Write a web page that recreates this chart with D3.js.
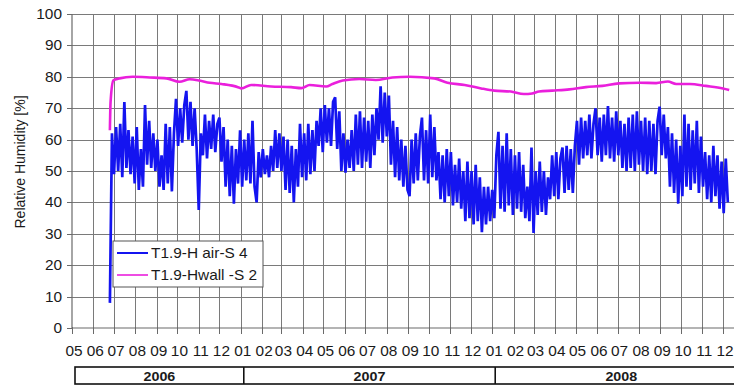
<!DOCTYPE html>
<html><head><meta charset="utf-8">
<script src="https://cdn.jsdelivr.net/npm/d3@7"></script>
<style>
body{margin:0;background:#fff;}
text{font-family:"Liberation Sans",Arial,sans-serif;fill:#1a1a1a;}
</style>
</head><body>
<svg id="chart" width="734" height="385"></svg>
<script>
// ---------- data ----------
const airLabel = "T1.9-H air-S 4";
const wallLabel = "T1.9-Hwall -S 2";
const airStart = "2006-06-25";
const airStepDays = 3;
const airValues = [
 8,62,49,64,50,65,48,72,51,63, 49,61,46,64,44,57,45,71,52,66,
 51,62,50,60,45,55,44,65,46,64, 43.5,62,73,58,70,59,71,75.5,60,72,
 58,70,57,37.6,62,55,68,54,66,57, 68,56,65,67,53,64,45,60,42,58,
 39.6,57,46,63,45,60,47,62,46,66, 45,40,56,48,57,49,55,48,58,50,
 63,51,62,50,61,44,60,43,58,40, 57,45,65,48,62,47,65,49,63,50,
 66,58,70,56,71,59,70,58,72,73.5, 57,69,50,62,49.5,60,51,63,50,68,
 52,69,51,67,53,66,51,68,55,70, 60,77,59,75,61,74,52,66,48,64,
 47,60,45,58,44,42,60,46,62,47, 61,67,47,63,46,68,48,64,47,56,
 41,55,40,57,42,56,39,52,40,54, 38,50,34,53,35,50,33,52,34,48,
 30.5,45,33,45,34,44,35,55,62.5,38, 58,37,62,39,57,36,55,38,56,37,
 52,35,45,34,57.5,30.3,50,36,53,37, 50,36,48,41,55,42,56,41,54,57.5,
 43,58,44,57,43,58,66,52,67,54, 66,55,68,54,65,70,55,67,53,68,
 55,70.7,54,67,53,69,55,66,51,65, 50,67,51,68,50,69,52,66,50,67,
 49,66,50,65,49,66,70.5,55,68,54, 64,45,62,43,60,39.6,58,42,68,45,
 65,44,63,46,66,43,61,45,56,41, 55,40,58,42,55,38,53,36.6,54,40
];
const wallDates = [
 "2006-06-25","2006-06-26","2006-06-30","2006-07-04","2006-07-09","2006-07-28","2006-08-22",
 "2006-09-15","2006-10-04","2006-10-19","2006-11-02","2006-11-17","2006-12-04","2006-12-28",
 "2007-01-02","2007-01-16","2007-02-14","2007-03-15","2007-03-30","2007-04-11","2007-05-05",
 "2007-05-14","2007-05-29","2007-06-22","2007-07-16","2007-08-09","2007-09-03","2007-10-09",
 "2007-10-28","2007-11-22","2007-12-16","2008-01-04","2008-01-28","2008-02-16","2008-02-28",
 "2008-03-09","2008-03-28","2008-04-22","2008-05-16","2008-06-09","2008-07-03","2008-08-02",
 "2008-08-26","2008-09-12","2008-09-24","2008-10-14","2008-11-06","2008-12-01","2008-12-10"
];
const wallValues = [
 63,72,78.8,79.2,79.5,80,79.8,
 79.5,78.4,79.2,78.8,78.1,77.7,76.7,
 76.3,77.4,76.9,76.7,76.4,77.4,76.9,
 77.7,78.8,79.3,79.0,79.8,80.0,79.5,
 78.1,77.4,76.3,75.6,75.3,74.5,74.7,
 75.3,75.6,76.0,76.7,77.1,77.9,78.1,
 78.0,78.5,77.7,77.7,77.1,76.3,75.8
];
const yTickValues = [0,10,20,30,40,50,60,70,80,90,100];
const axisStart = "2006-05-01";
const axisLastTick = "2008-12-01";
const years = ["2006","2007","2008"];
const yearBounds = ["2006-05-01","2007-01-01","2008-01-01","2009-01-01"];

// ---------- layout ----------
const svg = d3.select("#chart");
const parse = d3.timeParse("%Y-%m-%d");
const pL = 72, pT = 14, pB = 328, pR = 734;
const x = d3.scaleTime().domain([parse(axisStart), parse(axisLastTick)]).range([72, 723]);
const y = d3.scaleLinear().domain([0, 100]).range([pB, pT]);
const gridColor = "#7a7a7a";
const sx = 1.1; // horizontal text stretch

const months = d3.timeMonth.range(parse(axisStart), d3.timeDay.offset(parse(axisLastTick), 1));

// grid
const g = svg.append("g");
g.selectAll("line.h").data(yTickValues.filter(v => v > 0)).join("line")
  .attr("x1", pL).attr("x2", pR).attr("y1", d => Math.round(y(d)) + 0.5).attr("y2", d => Math.round(y(d)) + 0.5)
  .attr("stroke", gridColor).attr("stroke-width", 1);
g.selectAll("line.v").data(months.slice(1)).join("line")
  .attr("x1", d => Math.round(x(d)) + 0.5).attr("x2", d => Math.round(x(d)) + 0.5)
  .attr("y1", pT).attr("y2", pB)
  .attr("stroke", gridColor).attr("stroke-width", 1);

// axes
g.append("line").attr("x1", pL).attr("x2", pL).attr("y1", pT).attr("y2", pB)
  .attr("stroke", "#6a6a6a").attr("stroke-width", 1.2);
g.append("line").attr("x1", pL).attr("x2", pR).attr("y1", pB).attr("y2", pB)
  .attr("stroke", "#6a6a6a").attr("stroke-width", 1.2);
g.selectAll("line.yt").data(yTickValues).join("line")
  .attr("x1", pL - 5).attr("x2", pL).attr("y1", d => Math.round(y(d)) + 0.5).attr("y2", d => Math.round(y(d)) + 0.5)
  .attr("stroke", "#6a6a6a");
g.selectAll("line.xt").data(months).join("line")
  .attr("x1", d => Math.round(x(d)) + 0.5).attr("x2", d => Math.round(x(d)) + 0.5)
  .attr("y1", pB - 1).attr("y2", pB + 6).attr("stroke", "#6a6a6a");

svg.selectAll("text.yl").data(yTickValues).join("text").attr("class", "yl")
  .attr("transform", d => `translate(62,${y(d) + 5}) scale(${sx},1)`)
  .attr("text-anchor", "end").attr("font-size", 14).text(d => d);
const fmt = d3.timeFormat("%m");
svg.selectAll("text.xl").data(months).join("text").attr("class", "xl")
  .attr("transform", d => `translate(${x(d) + 2},356) scale(${sx},1)`)
  .attr("text-anchor", "middle").attr("font-size", 14).text(d => fmt(d));

svg.append("text").attr("transform", "translate(25,162) rotate(-90)")
  .attr("text-anchor", "middle").attr("font-size", 14).text("Relative Humidity [%]");

// series
svg.append("clipPath").attr("id", "clip").append("rect")
  .attr("x", pL).attr("y", pT - 2).attr("width", pR - pL).attr("height", pB - pT + 2);
const start = parse(airStart);
const airData = airValues.map((v, i) => ({ d: d3.timeDay.offset(start, i * airStepDays), v }));
const wallData = wallDates.map((s, i) => ({ d: parse(s), v: wallValues[i] }));
const line = d3.line().x(p => x(p.d)).y(p => y(p.v));
svg.append("path").datum(airData).attr("clip-path", "url(#clip)")
  .attr("d", line).attr("fill", "none").attr("stroke", "#1414f0")
  .attr("stroke-width", 2.7).attr("stroke-linejoin", "miter").attr("stroke-miterlimit", 2.5);
svg.append("path").datum(wallData).attr("clip-path", "url(#clip)")
  .attr("d", line.curve(d3.curveMonotoneX)).attr("fill", "none").attr("stroke", "#ea1fdc")
  .attr("stroke-width", 2.6);

// legend
const lg = svg.append("g");
lg.append("rect").attr("x", 113).attr("y", 241).attr("width", 150).attr("height", 46)
  .attr("fill", "#fff").attr("stroke", "#555").attr("stroke-width", 1);
[[airLabel, "#1414f0", 253, 2], [wallLabel, "#ea1fdc", 275, 1.6]].forEach(([t, c, yy, w]) => {
  lg.append("line").attr("x1", 117).attr("x2", 148).attr("y1", yy).attr("y2", yy)
    .attr("stroke", c).attr("stroke-width", w);
  lg.append("text").attr("transform", `translate(151,${yy + 5}) scale(${sx},1)`)
    .attr("font-size", 14).text(t);
});

// year bar
const yb = svg.append("g");
const yx = yearBounds.map(s => x(parse(s)) + 3);
yb.append("rect").attr("x", yx[0]).attr("y", 367).attr("width", yx[3] - yx[0]).attr("height", 17)
  .attr("fill", "#fff").attr("stroke", "#111").attr("stroke-width", 1.6);
yb.selectAll("line.yd").data(yx.slice(1, 3)).join("line")
  .attr("x1", d => d).attr("x2", d => d).attr("y1", 367).attr("y2", 384)
  .attr("stroke", "#111").attr("stroke-width", 1.6);
yb.selectAll("text.yr").data(years).join("text").attr("class", "yr")
  .attr("transform", (d, i) => `translate(${(yx[i] + yx[i + 1]) / 2},381) scale(${sx},1)`)
  .attr("text-anchor", "middle").attr("font-size", 13).attr("font-weight", "bold").text(d => d);
</script>
</body></html>
